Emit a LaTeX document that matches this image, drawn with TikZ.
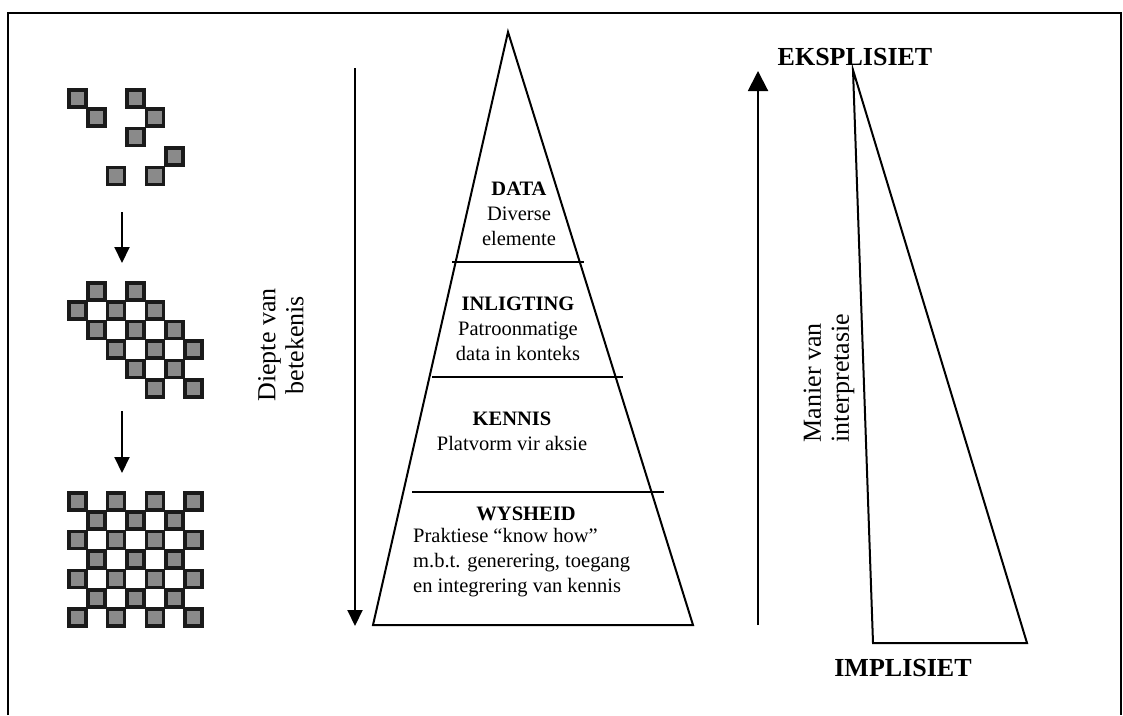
\documentclass[tikz,border=0pt]{standalone}
\usepackage{fontspec}
\setmainfont{Liberation Serif}
\usetikzlibrary{arrows.meta}
\definecolor{tilefill}{HTML}{8A8A8A}
\definecolor{tileedge}{HTML}{1A1A1A}
\begin{document}
\begin{tikzpicture}[x=1pt,y=-1pt,
  line join=miter,
  txt/.style={font=\fontsize{20.5}{25}\selectfont, inner sep=0pt, align=center},
  hd/.style={txt, font=\fontsize{20.5}{25}\selectfont\bfseries},
  side/.style={font=\fontsize{26}{28}\selectfont, inner sep=0pt},
  sidehd/.style={font=\fontsize{26}{28}\selectfont\bfseries, inner sep=0pt},
  edge/.style={line width=2pt, black},
  tile/.style={fill=tilefill, draw=tileedge, line width=3.5pt},
  bigtip/.style={-{Triangle[width=20pt,length=20pt]}, line width=2pt},
  smalltip/.style={-{Triangle[width=15pt,length=16pt]}, line width=2pt}]
\useasboundingbox (0,0) rectangle (1123,715);

% frame (open at the bottom)
\draw[line width=2.5pt] (8,715) -- (8,13) -- (1121,13) -- (1121,715);

% tile macro: column, row, origin
\newcommand{\tileat}[4]{%
  \draw[tile] ({#3+#1*19.4+1.75},{#4+#2*19.4+1.75}) rectangle ++(17,17);}

% scattered tiles
\foreach \c/\r in {0/0,1/1,3/0,4/1,3/2,5/3,4/4,2/4}
  {\tileat{\c}{\r}{67}{88}}
% partly ordered tiles
\foreach \c/\r in {1/0,3/0,0/1,2/1,4/1,1/2,3/2,5/2,2/3,4/3,6/3,3/4,5/4,4/5,6/5}
  {\tileat{\c}{\r}{67}{281}}
% fully ordered tiles
\foreach \r in {0,2,4,6}{\foreach \c in {0,2,4,6}{\tileat{\c}{\r}{67}{491}}}
\foreach \r in {1,3,5}{\foreach \c in {1,3,5}{\tileat{\c}{\r}{67}{491}}}

% arrows between tile groups
\coordinate (g1) at (122,212);
\coordinate (g2) at (122,263);
\coordinate (g3) at (122,411);
\coordinate (g4) at (122,473);
\draw[smalltip] (g1) -- (g2);
\draw[smalltip] (g3) -- (g4);

% depth arrow
\coordinate (d1) at (355,68);
\coordinate (d2) at (355,626);
\draw[smalltip] (d1) -- (d2);
\node[side, rotate=90, align=center] (depth) at (281,345) {Diepte van\\betekenis};

% pyramid
\coordinate (apex) at (508,32);
\coordinate (bl) at (373,625);
\coordinate (br) at (693,625);
\draw[edge] (apex) -- (bl) -- (br) -- cycle;
\draw[edge] (452,262) -- (584,262);
\draw[edge] (432,377) -- (623,377);
\draw[edge] (412,492) -- (664,492);

\node[txt] (data) at (519,214) {\textbf{DATA}\\Diverse\\elemente};
\node[txt] (inl) at (518,328.5) {\textbf{INLIGTING}\\Patroonmatige\\data in konteks};
\node[txt] (ken) at (512,431.5) {\textbf{KENNIS}\\Platvorm vir aksie};
\node[hd] (wys) at (526,514) {WYSHEID};
\node[txt, align=left, anchor=west] (wysb) at (413,563)
  {Praktiese “know how”\\m.b.t. generering, toegang\\en integrering van kennis};

% interpretation arrow
\coordinate (m1) at (758,625);
\coordinate (m2) at (758,71);
\draw[bigtip] (m1) -- (m2);
\node[side, rotate=90, align=left] (manner) at (829,378) {Manier van\\interpretasie};

% explicit / implicit wedge
\node[sidehd] (eks) at (855,57) {EKSPLISIET};
\node[sidehd] (imp) at (903,668) {IMPLISIET};
\coordinate (w1) at (853,70);
\coordinate (w2) at (873,643);
\coordinate (w3) at (1027,643);
\draw[edge] (w1) -- (w2) -- (w3) -- cycle;
\end{tikzpicture}
\end{document}
